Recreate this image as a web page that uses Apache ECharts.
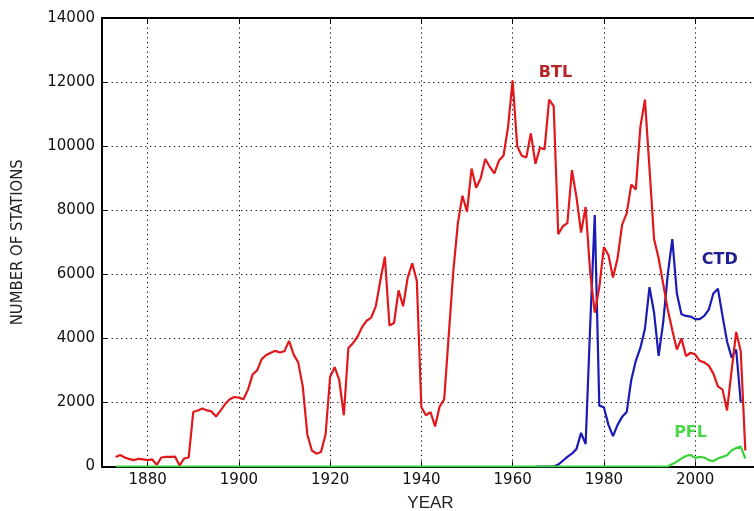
<!DOCTYPE html>
<html>
<head>
<meta charset="utf-8">
<script src="https://cdn.jsdelivr.net/npm/echarts@6/dist/echarts.min.js"></script>
<style>
html,body{margin:0;padding:0;background:#fff;}
#chart{width:754px;height:511px;}
</style>
</head>
<body>
<div id="chart"></div>
<script>
// Years 1873..2011
const btlYears = [];
for (let y = 1873; y <= 2011; y++) btlYears.push(y);

const btlValues = [
  300,360,280,230,200,240,220,200,220,50,          // 1873-1882
  280,300,300,310,30,250,280,1700,1750,1810,        // 1883-1892
  1750,1720,1560,1750,1950,2100,2170,2150,2100,2400, // 1893-1902
  2870,3000,3350,3480,3550,3610,3560,3600,3920,3500, // 1903-1912
  3250,2500,1000,500,400,450,1000,2800,3100,2700,   // 1913-1922
  1600,3700,3850,4050,4350,4550,4650,5000,5800,6550, // 1923-1932
  4400,4480,5500,5000,5900,6340,5800,1850,1600,1700, // 1933-1942
  1250,1870,2100,4100,6100,7600,8450,7950,9300,8700, // 1943-1952
  9000,9600,9350,9150,9550,9700,10600,12050,10000,9700, // 1953-1962
  9650,10400,9450,9950,9900,11450,11250,7250,7500,7600, // 1963-1972
  9250,8400,7300,8100,6050,4800,5600,6850,6600,5900, // 1973-1982
  6500,7550,7900,8800,8650,10600,11450,9300,7100,6500, // 1983-1992
  5700,4900,4250,3650,4000,3450,3550,3500,3300,3250, // 1993-2002
  3150,2900,2500,2400,1750,3000,4200,3600,500        // 2003-2011
];

const ctdYears = [];
for (let y = 1965; y <= 2010; y++) ctdYears.push(y);
const ctdValues = [
  0,0,0,0,0,60,180,300,400,550,         // 1965-1974
  1050,700,4400,7850,1900,1850,1300,950,1300,1550, // 1975-1984
  1700,2700,3300,3700,4300,5600,4800,3450,4500,6000, // 1985-1994
  7100,5400,4750,4700,4680,4600,4600,4700,4900,5400, // 1995-2004
  5550,4700,3900,3400,3650,2000          // 2005-2010
];

const pflYears = btlYears;
const pflValues = btlYears.map(function(){return 0;});
const pflTail = {1995:80,1996:150,1997:250,1998:330,1999:360,2000:270,2001:300,2002:280,2003:200,2004:170,2005:250,2006:300,2007:350,2008:500,2009:580,2010:620,2011:250};
pflYears.forEach(function(y,i){ if (pflTail[y] !== undefined) pflValues[i] = pflTail[y]; });

const xTicks = [1880, 1900, 1920, 1940, 1960, 1980, 2000];
const yTicks = [0, 2000, 4000, 6000, 8000, 10000, 12000, 14000];

const labels = [
  {text: 'BTL', year: 1969.4, value: 12300, color: '#b3262a'},
  {text: 'CTD', year: 2005.4, value: 6450, color: '#1f2090'},
  {text: 'PFL', year: 1999, value: 1045, color: '#4cd64c'}
];

function pairs(xs, vs){ return xs.map(function(x,i){ return [x, vs[i]]; }); }
function plain(v){ return String(v); }

const chart = echarts.init(document.getElementById('chart'), null, {renderer: 'canvas'});

const font = '"Liberation Sans", Arial, sans-serif';
const wide = '"DejaVu Sans", sans-serif';
const narrow = '"Liberation Sans Narrow", "DejaVu Sans Condensed", "Liberation Sans", sans-serif';
const dotted = {color: '#000', width: 1, type: [1.2, 3.6]};

const option = {
  backgroundColor: '#fff',
  animation: false,
  grid: {left: 102, right: -5, top: 18, bottom: 44.5, show: false, containLabel: false, outerBoundsMode: 'none'},
  xAxis: [{
    type: 'value', min: 1870, max: 2014,
    name: 'YEAR', nameLocation: 'middle', nameGap: 28,
    nameTextStyle: {fontFamily: font, fontSize: 17, color: '#222'},
    axisLine: {show: true, onZero: false, lineStyle: {color: '#000', width: 2}},
    axisTick: {show: true, inside: true, length: 5, customValues: xTicks, lineStyle: {color: '#000'}},
    axisLabel: {customValues: xTicks, formatter: plain, margin: 6, fontFamily: wide, fontSize: 15, color: '#111'},
    splitLine: {show: true, lineStyle: dotted}
  }, {
    type: 'value', min: 1870, max: 2014, position: 'top',
    axisLine: {show: true, onZero: false, lineStyle: {color: '#000', width: 2}},
    axisTick: {show: true, inside: true, length: 5, customValues: xTicks, lineStyle: {color: '#000'}},
    axisLabel: {show: false},
    splitLine: {show: false}
  }],
  yAxis: {
    type: 'value', min: 0, max: 14000, interval: 2000,
    name: 'NUMBER OF STATIONS', nameLocation: 'middle', nameGap: 76,
    nameTextStyle: {fontFamily: narrow, fontSize: 16.5, color: '#222'},
    axisLine: {show: true, onZero: false, lineStyle: {color: '#000', width: 2}},
    axisTick: {show: true, inside: true, length: 5, lineStyle: {color: '#000'}},
    axisLabel: {formatter: plain, margin: 7, fontFamily: wide, fontSize: 15, color: '#111'},
    splitLine: {show: true, lineStyle: dotted}
  },
  series: [
    {
      name: 'CTD', type: 'line', data: pairs(ctdYears, ctdValues),
      showSymbol: false, lineStyle: {color: '#1a1ab4', width: 2.2}, itemStyle: {color: '#1a1ab4'}, z: 3
    },
    {
      name: 'BTL', type: 'line', data: pairs(btlYears, btlValues),
      showSymbol: false, lineStyle: {color: '#e0181c', width: 2.2}, itemStyle: {color: '#e0181c'}, z: 4
    },
    {
      name: 'PFL', type: 'line', data: pairs(pflYears, pflValues),
      showSymbol: false, lineStyle: {color: '#3ad43a', width: 2.2}, itemStyle: {color: '#3ad43a'}, z: 5,
      markPoint: {
        symbol: 'circle', symbolSize: 0,
        data: labels.map(function(l){
          return {coord: [l.year, l.value], label: {show: true, formatter: l.text, color: l.color, fontFamily: wide, fontSize: 16, fontWeight: 'bold', position: 'inside'}};
        })
      }
    }
  ]
};
chart.setOption(option);
</script>
</body>
</html>
